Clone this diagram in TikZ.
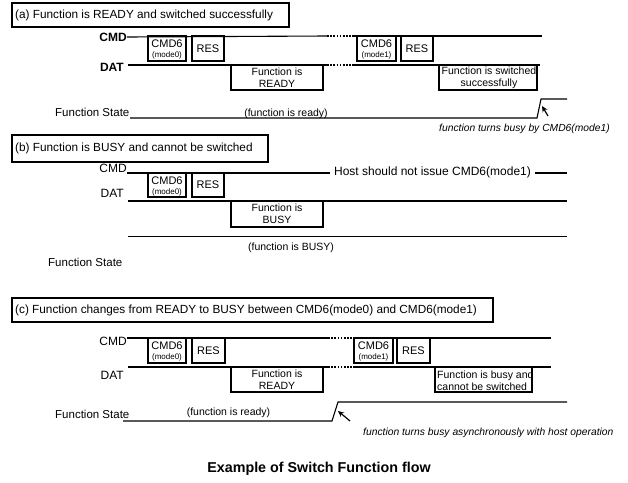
\documentclass[tikz,border=0pt]{standalone}
\usepackage{fontspec}
\setmainfont{Liberation Sans}
\usetikzlibrary{arrows.meta}
\newcommand{\fsz}[1]{\fontsize{#1}{#1}\selectfont}
\begin{document}
\begin{tikzpicture}[x=1pt,y=-1pt,
  sig/.style={line width=1.1pt},
  dots/.style={line width=1.4pt, dash pattern=on 1.6pt off 1.6pt},
  pbox/.style={draw, line width=1.1pt},
  ttl/.style={draw, line width=2pt},
  ttltext/.style={anchor=west, inner sep=0pt, font=\fsz{11.8}},
  lbl/.style={anchor=east, inner sep=0pt, font=\fsz{12}},
  blbl/.style={anchor=east, inner sep=0pt, font=\bfseries\fsz{12}},
  fs/.style={anchor=west, inner sep=0pt, font=\fsz{11.5}},
  small/.style={inner sep=0pt, font=\fsz{10.5}},
  cmdt/.style={inner sep=0pt, font=\fsz{11}},
  modet/.style={inner sep=0pt, font=\fsz{8}},
  bt/.style={inner sep=0pt, align=center, font=\fontsize{10.5}{12}\selectfont},
  note/.style={anchor=west, inner sep=0pt, font=\itshape\fsz{10.3}},
  arr/.style={line width=1.2pt, -{Stealth[length=6pt,width=5.5pt]}}]
\useasboundingbox (0,0) rectangle (628,482);
\fill[white] (0,0) rectangle (628,482);

% ================= (a)
\draw[ttl] (12,3) rectangle (289,27);
\node[ttltext] (ta) at (15,15.5) {(a) Function is READY and switched successfully};
\node[blbl] (cmda) at (127,37) {CMD};
\node[blbl] (data) at (124,67) {DAT};
\draw[sig] (cmda.east) -- (327,36);
\draw[dots] (327,36) -- (352,36);
\draw[sig] (352,36) -- (542,36);
\draw[sig] (128,65) -- (327,65);
\draw[dots] (327,65) -- (352,65);
\draw[sig] (352,65) -- (540,65);
\draw[pbox] (148,36) rectangle (186,61);
\node[cmdt] (c6a0) at (167,44) {CMD6};
\node[modet] (m6a0) at (167,55.5) {(mode0)};
\draw[pbox] (192,36) rectangle (224,61);
\node[cmdt] (resa0) at (208,49) {RES};
\draw[pbox] (231,65) -- (231,90) -- (323,90) -- (323,65);
\node[bt] (ready_a) at (277,78) {Function is\\READY};
\draw[pbox] (357,36) rectangle (396,61);
\node[cmdt] (c6a1) at (376.5,44) {CMD6};
\node[modet] (m6a1) at (376.5,55.5) {(mode1)};
\draw[pbox] (401,36) rectangle (433,61);
\node[cmdt] (resa1) at (417,49) {RES};
\draw[pbox] (439,65) -- (439,90) -- (537,90) -- (537,65);
\node[bt] (sw_a) at (489,78) {Function is switched\\successfully};
\node[fs] (fsa) at (55,112.5) {Function State};
\draw[sig] (130,118) -- (537,118) -- (541,99) -- (567,99);
\node[small] (rdy_a) at (286,114) {(function is ready)};
\coordinate (ahA) at (542,106);
\coordinate (atA) at (548,116);
\draw[arr] (atA) -- (ahA);
\node[note] (na) at (439,128.5) {function turns busy by CMD6(mode1)};

% ================= (b)
\draw[ttl] (12,135) rectangle (268,162);
\node[ttltext] (tb) at (15,148.5) {(b) Function is BUSY and cannot be switched};
\node[lbl] (cmdb) at (127,168) {CMD};
\node[lbl] (datb) at (124,193) {DAT};
\draw[sig] (cmdb.east |- 0,173) -- (330,173);
\node[inner sep=0pt, font=\fsz{12}] (host) at (432.5,172) {Host should not issue CMD6(mode1)};
\draw[sig] (535,173) -- (567,173);
\draw[sig] (128,201) -- (567,201);
\draw[pbox] (148,173) rectangle (186,197);
\node[cmdt] (c6b0) at (167,181) {CMD6};
\node[modet] (m6b0) at (167,192) {(mode0)};
\draw[pbox] (192,173) rectangle (224,197);
\node[cmdt] (resb0) at (208,185) {RES};
\draw[pbox] (231,201) -- (231,227) -- (323,227) -- (323,201);
\node[bt] (busy_b) at (277,214) {Function is\\BUSY};
\draw[sig] (128,236.5) -- (567,236.5);
\node[small] (bsy_b) at (291,247.5) {(function is BUSY)};
\node[fs] (fsb) at (48,262) {Function State};

% ================= (c)
\draw[ttl] (12,298) rectangle (493,322);
\node[ttltext] (tc) at (15,310.5) {(c) Function changes from READY to BUSY between CMD6(mode0) and CMD6(mode1)};
\node[lbl] (cmdc) at (127,341) {CMD};
\node[lbl] (datc) at (124,375) {DAT};
\draw[sig] (cmdc.east |- 0,338) -- (328,338);
\draw[dots] (328,338) -- (353,338);
\draw[sig] (353,338) -- (551,338);
\draw[sig] (128,367) -- (328,367);
\draw[dots] (328,367) -- (353,367);
\draw[sig] (353,367) -- (551,367);
\draw[pbox] (148,338) rectangle (186,363);
\node[cmdt] (c6c0) at (167,346) {CMD6};
\node[modet] (m6c0) at (167,357.5) {(mode0)};
\draw[pbox] (192,338) rectangle (225,363);
\node[cmdt] (resc0) at (208.5,351) {RES};
\draw[pbox] (231,367) -- (231,392) -- (323,392) -- (323,367);
\node[bt] (ready_c) at (277,380) {Function is\\READY};
\draw[pbox] (354,338) rectangle (393,363);
\node[cmdt] (c6c1) at (373.5,346) {CMD6};
\node[modet] (m6c1) at (373.5,357.5) {(mode1)};
\draw[pbox] (397,338) rectangle (430,363);
\node[cmdt] (resc1) at (413.5,351) {RES};
\draw[pbox] (435,367) -- (435,392) -- (532,392) -- (532,367);
\node[anchor=west, inner sep=0pt, align=left, font=\fontsize{10.5}{12}\selectfont] (busy_c) at (437,380.5) {Function is busy and\\cannot be switched};
\node[fs] (fsc) at (55,414) {Function State};
\draw[sig] (123,421) -- (332,421) -- (338,402) -- (567,402);
\node[small] (rdy_c) at (228.5,413) {(function is ready)};
\coordinate (ahC) at (338,411);
\coordinate (atC) at (350,421);
\draw[arr] (atC) -- (ahC);
\node[note] (nc) at (363,433) {function turns busy asynchronously with host operation};

% caption
\node[inner sep=0pt, font=\bfseries\fsz{14.3}] (cap) at (319,469) {Example of Switch Function flow};
\end{tikzpicture}
\end{document}
